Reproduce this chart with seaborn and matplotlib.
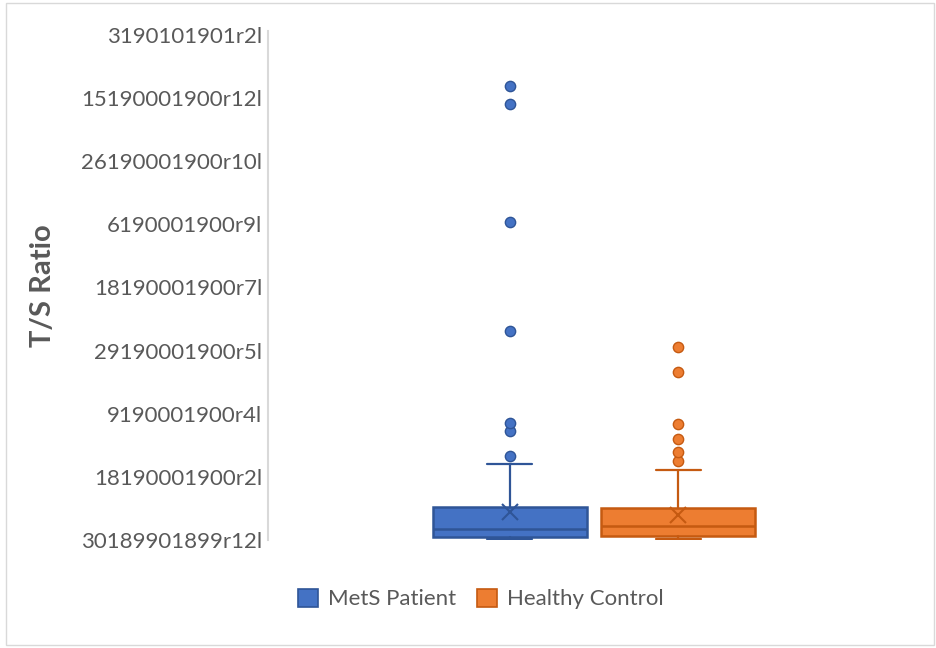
import numpy as np
import pandas as pd
import seaborn as sns
import matplotlib.pyplot as plt
from matplotlib.patches import Patch, Rectangle

# values in axis units (one unit per tick step)
groups = ["MetS Patient", "Healthy Control"]
whislo = [0.01, 0.01]
q1 = [0.05, 0.07]
med = [0.18, 0.22]
q3 = [0.52, 0.50]
whishi = [1.20, 1.11]
means = [0.45, 0.40]
mets_outliers = [1.33, 1.73, 1.85, 3.31, 5.03, 6.91, 7.19]
hc_outliers = [1.25, 1.40, 1.60, 1.84, 2.66, 3.06]
tick_labels = ["30189901899r12l", "18190001900r2l", "9190001900r4l", "29190001900r5l",
               "18190001900r7l", "6190001900r9l", "26190001900r10l", "15190001900r12l",
               "3190101901r2l"]

fills = ["#4472C4", "#ED7D31"]
edges = ["#2F5597", "#C55A11"]
grey = "#595959"

sns.set_theme(style="white")
plt.rcParams['font.family'] = ['Lato', 'DejaVu Sans']

fig = plt.figure(figsize=(9.36, 6.48), dpi=100)
ax = fig.add_axes([268/936, 1-540/648, 652/936, 509/648])

offset = 0.129
positions = [-offset, offset]

for i in range(len(groups)):
	stats = [dict(whislo=whislo[i], q1=q1[i], med=med[i], q3=q3[i], whishi=whishi[i],
				  mean=means[i], fliers=[], label=groups[i])]
	ax.bxp(stats, positions=[positions[i]], widths=0.235, capwidths=0.069,
		   patch_artist=True, showmeans=True, manage_ticks=False,
		   boxprops=dict(facecolor=fills[i], edgecolor=edges[i], linewidth=1.8),
		   medianprops=dict(color=edges[i], linewidth=1.8),
		   whiskerprops=dict(color=edges[i], linewidth=1.6),
		   capprops=dict(color=edges[i], linewidth=1.6),
		   meanprops=dict(marker='x', markeredgecolor=edges[i], markersize=11, markeredgewidth=1.5))

pts = pd.DataFrame({
	'Group': [groups[0]]*len(mets_outliers) + [groups[1]]*len(hc_outliers),
	'Value': mets_outliers + hc_outliers,
})
pts['x'] = pts['Group'].map(dict(zip(groups, positions)))
for i, g in enumerate(groups):
	sns.scatterplot(data=pts[pts['Group'] == g], x='x', y='Value', ax=ax, s=55,
					color=fills[i], edgecolor=edges[i], linewidth=1, zorder=3, legend=False)

ax.set_xlim(-0.5, 0.5)
ax.set_ylim(0, 8.06)
ax.set_yticks(range(len(tick_labels)))
ax.set_yticklabels(tick_labels)
ax.set_xticks([])
ax.set_xlabel('')
ax.tick_params(axis='y', length=0, pad=4, labelsize=16, labelcolor=grey)
ax.set_ylabel('T/S Ratio', fontsize=21, fontweight='bold', color=grey)
ax.yaxis.set_label_coords(-0.325, 0.5)

for s in ['top', 'right', 'bottom']:
	ax.spines[s].set_visible(False)
ax.spines['left'].set_color('#d9d9d9')
ax.spines['left'].set_linewidth(1.5)

handles = [Patch(facecolor=fills[i], edgecolor=edges[i], linewidth=1.2, label=groups[i]) for i in range(2)]
fig.legend(handles=handles, loc='center', bbox_to_anchor=(0.514, 0.0756), ncol=2, frameon=False,
		   fontsize=16, labelcolor=grey, handlelength=0.9, handleheight=0.9, columnspacing=0.95,
		   handletextpad=0.45)

fig.patches.append(Rectangle((6/936, 3/648), 928/936, 642/648, transform=fig.transFigure,
							 fill=False, edgecolor='#d9d9d9', linewidth=1))

fig.savefig('out.png', dpi=100)
